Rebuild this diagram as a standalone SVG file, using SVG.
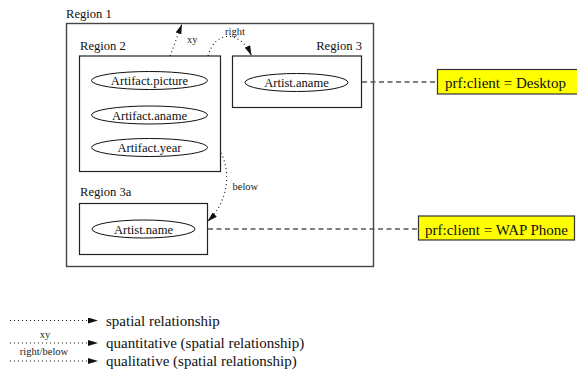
<svg xmlns="http://www.w3.org/2000/svg" width="577" height="381" viewBox="0 0 577 381">
  <style>
    .lbl { font-family: "Liberation Serif", "Times New Roman", serif; font-size: 12.6px; fill: #111; }
    .small { font-family: "Liberation Serif", "Times New Roman", serif; font-size: 10.5px; fill: #222; }
    .big { font-family: "Liberation Serif", "Times New Roman", serif; font-size: 15px; fill: #111; }
    .box { fill: none; stroke: #222; stroke-width: 1.2; }
    .outer { fill: none; stroke: #444; stroke-width: 1.4; }
    .attr { fill: #fff; stroke: #111; stroke-width: 1; }
    .note { fill: #ffff00; stroke: #333; stroke-width: 1.2; }
    .dot { fill: none; stroke: #111; stroke-width: 1.1; stroke-dasharray: 1 3; }
    .dash { fill: none; stroke: #555; stroke-width: 1.5; stroke-dasharray: 5 3.5; }
  </style>
  <defs>
    <marker id="head" markerWidth="10" markerHeight="6" refX="10" refY="3" orient="auto" markerUnits="userSpaceOnUse">
      <path d="M0,0 L10,3 L0,6 Z" fill="#111"/>
    </marker>
  </defs>

  <!-- regions -->
  <g id="region1">
    <rect class="outer" x="66.5" y="23.5" width="307" height="243"/>
    <text class="lbl" x="66" y="17.5">Region 1</text>
  </g>
  <g id="region2">
    <rect class="box" x="79.5" y="56" width="141" height="115.5"/>
    <text class="lbl" x="80" y="50">Region 2</text>
  </g>
  <g id="artifact-picture">
    <ellipse class="attr" cx="149.5" cy="80.5" rx="58" ry="9"/>
    <text class="lbl" x="149.5" y="85" text-anchor="middle">Artifact.picture</text>
  </g>
  <g id="artifact-aname">
    <ellipse class="attr" cx="149.5" cy="115" rx="58" ry="9"/>
    <text class="lbl" x="149.5" y="119.5" text-anchor="middle">Artifact.aname</text>
  </g>
  <g id="artifact-year">
    <ellipse class="attr" cx="149.5" cy="147.5" rx="58" ry="9"/>
    <text class="lbl" x="149.5" y="152" text-anchor="middle">Artifact.year</text>
  </g>
  <g id="region3">
    <rect class="box" x="232.5" y="56" width="129" height="51.5"/>
    <text class="lbl" x="362" y="50" text-anchor="end">Region 3</text>
  </g>
  <g id="artist-aname">
    <ellipse class="attr" cx="296.5" cy="82.5" rx="51.5" ry="9"/>
    <text class="lbl" x="296.5" y="87" text-anchor="middle">Artist.aname</text>
  </g>
  <g id="region3a">
    <rect class="box" x="79.5" y="203.5" width="128" height="51"/>
    <text class="lbl" x="80" y="196">Region 3a</text>
  </g>
  <g id="artist-name">
    <ellipse class="attr" cx="143.5" cy="229" rx="51.5" ry="9"/>
    <text class="lbl" x="143.5" y="233.5" text-anchor="middle">Artist.name</text>
  </g>

  <!-- profile notes -->
  <g id="note-desktop">
    <rect class="note" x="437.5" y="69.5" width="142" height="24.5"/>
    <text class="big" x="445" y="88">prf:client = Desktop</text>
  </g>
  <g id="note-wap">
    <rect class="note" x="418.5" y="216" width="156" height="24"/>
    <text class="big" x="425" y="234.5">prf:client = WAP Phone</text>
  </g>

  <!-- connectors -->
  <g id="connectors">
    <line class="dash" x1="362" y1="82" x2="437.5" y2="82"/>
    <line class="dash" x1="208" y1="229" x2="418.5" y2="229"/>
    <path class="dot" d="M170,56 L182,24" marker-end="url(#head)"/>
    <text class="small" x="187" y="43">xy</text>
    <path class="dot" d="M208,56 C215,30 240,30 251.5,55.5" marker-end="url(#head)"/>
    <text class="small" x="225" y="35">right</text>
    <path class="dot" d="M221,153 C230,170 230,200 207.5,221.5" marker-end="url(#head)"/>
    <text class="small" x="232.5" y="190">below</text>
  </g>

  <!-- legend -->
  <g id="legend">
    <path class="dot" d="M10,320.5 L98,320.5" marker-end="url(#head)"/>
    <text class="big" x="106" y="325.5">spatial relationship</text>
    <text class="small" x="45" y="338" text-anchor="middle">xy</text>
    <path class="dot" d="M10,343 L98,343" marker-end="url(#head)"/>
    <text class="big" x="106" y="348">quantitative (spatial relationship)</text>
    <text class="small" x="44" y="355" text-anchor="middle">right/below</text>
    <path class="dot" d="M10,361 L98,361" marker-end="url(#head)"/>
    <text class="big" x="106" y="366">qualitative (spatial relationship)</text>
  </g>
</svg>
